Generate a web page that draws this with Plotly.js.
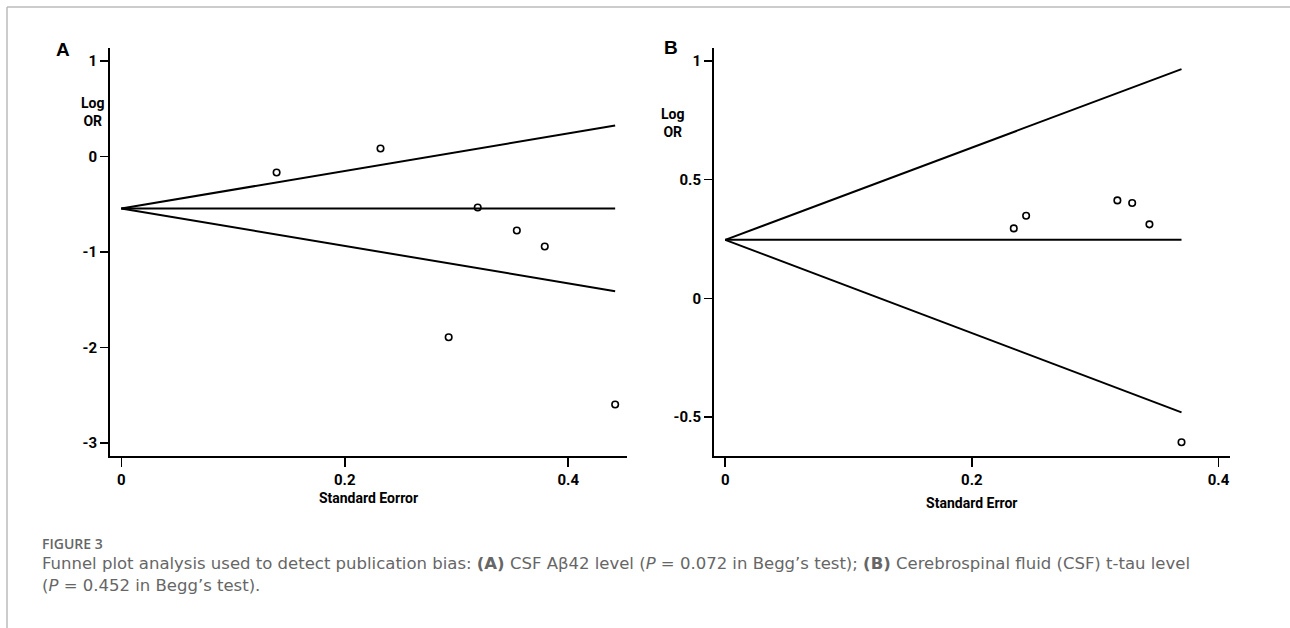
<!DOCTYPE html>
<html>
<head>
<meta charset="utf-8">
<script src="https://cdn.plot.ly/plotly-3.0.1.min.js"></script>
<style>html,body{margin:0;padding:0;background:#fff;}#chart{width:1290px;height:628px;}</style>
</head>
<body>
<div id="chart"></div>
<script>
// Panel A: CSF Abeta42 level
const seA = [0.139, 0.232, 0.319, 0.354, 0.379, 0.293, 0.442];
const logOrA = [-0.168, 0.084, -0.534, -0.775, -0.942, -1.892, -2.597];
const funnelSeA = [0, 0.442];
const pooledA = [-0.545, -0.545];
const upperA = [-0.545, 0.325];
const lowerA = [-0.545, -1.41];

// Panel B: CSF t-tau level
const seB = [0.234, 0.244, 0.318, 0.330, 0.344, 0.370];
const logOrB = [0.295, 0.348, 0.413, 0.402, 0.312, -0.606];
const funnelSeB = [0, 0.370];
const pooledB = [0.2466, 0.2466];
const upperB = [0.2466, 0.966];
const lowerB = [0.2466, -0.48];

const xTickVals = [0, 0.2, 0.4];
const xTickText = ['0', '0.2', '0.4'];
const yTickValsA = [-3, -2, -1, 0, 1];
const yTickTextA = ['-3', '-2', '-1', '0', '1'];
const yTickValsB = [-0.5, 0, 0.5, 1];
const yTickTextB = ['-0.5', '0', '0.5', '1'];

const W = 1290, H = 628;
const px = v => v / W;
const py = v => 1 - v / H;

const axFont = {family: 'Roboto, "Liberation Sans", sans-serif', size: 14, color: '#000', weight: 'bold'};
const tickFont = {family: 'Roboto, "Liberation Sans", sans-serif', size: 15, color: '#000', weight: 'bold'};

function line(x, y, xa, ya) {
  return {x: x, y: y, xaxis: xa, yaxis: ya, mode: 'lines', type: 'scatter',
    line: {color: '#000', width: 2}, hoverinfo: 'skip', showlegend: false};
}
function pts(x, y, xa, ya) {
  return {x: x, y: y, xaxis: xa, yaxis: ya, mode: 'markers', type: 'scatter',
    marker: {symbol: 'circle-open', size: 6.5, color: '#000', line: {width: 1.6, color: '#000'}},
    showlegend: false};
}

const data = [
  line(funnelSeA, pooledA, 'x', 'y'),
  line(funnelSeA, upperA, 'x', 'y'),
  line(funnelSeA, lowerA, 'x', 'y'),
  pts(seA, logOrA, 'x', 'y'),
  line(funnelSeB, pooledB, 'x2', 'y2'),
  line(funnelSeB, upperB, 'x2', 'y2'),
  line(funnelSeB, lowerB, 'x2', 'y2'),
  pts(seB, logOrB, 'x2', 'y2')
];

function xax(domain, range, title, anchor, standoff) {
  return {domain: domain, range: range, anchor: anchor, showline: true, linewidth: 2, linecolor: '#000',
    showgrid: false, zeroline: false, ticks: 'outside', ticklen: 9, tickwidth: 1.5, tickcolor: '#000',
    tickvals: xTickVals, ticktext: xTickText, tickfont: tickFont, automargin: false,
    title: {text: title, font: axFont, standoff: standoff}};
}
function yax(domain, range, tv, tt, anchor) {
  return {domain: domain, range: range, anchor: anchor, showline: true, linewidth: 2, linecolor: '#000',
    showgrid: false, zeroline: false, ticks: 'outside', ticklen: 8, tickwidth: 1.5, tickcolor: '#000',
    tickvals: tv, ticktext: tt, tickfont: tickFont, automargin: false};
}

const yDom = [py(456), py(48)];

const capFont = {family: '"DejaVu Sans", "Open Sans", sans-serif', size: 16.5, color: '#666'};

const layout = {
  width: W, height: H,
  margin: {l: 0, r: 0, t: 0, b: 0},
  paper_bgcolor: '#fff', plot_bgcolor: '#fff',
  showlegend: false,
  xaxis: xax([px(110), px(627)], [-0.0101, 0.4526], 'Standard Eorror', 'y', 5),
  yaxis: yax(yDom, [-3.136, 1.136], yTickValsA, yTickTextA, 'x'),
  xaxis2: xax([px(714), px(1229.6)], [-0.0091, 0.409], 'Standard Error', 'y2', 10),
  yaxis2: yax(yDom, [-0.664, 1.055], yTickValsB, yTickTextB, 'x2'),
  shapes: [
    {type: 'line', xref: 'paper', yref: 'paper', x0: px(7), x1: 1, y0: py(7), y1: py(7), line: {color: '#bbbbbb', width: 1.5}},
    {type: 'line', xref: 'paper', yref: 'paper', x0: px(7), x1: px(7), y0: py(7), y1: 0, line: {color: '#bbbbbb', width: 1.5}}
  ],
  annotations: [
    {text: 'A', xref: 'paper', yref: 'paper', x: px(63), y: py(49), xanchor: 'center', yanchor: 'middle', showarrow: false,
      font: {family: '"Liberation Sans", Arial, sans-serif', size: 19, color: '#000', weight: 'bold'}},
    {text: 'B', xref: 'paper', yref: 'paper', x: px(671), y: py(48), xanchor: 'center', yanchor: 'middle', showarrow: false,
      font: {family: '"Liberation Sans", Arial, sans-serif', size: 19, color: '#000', weight: 'bold'}},
    {text: 'Log<br>OR', xref: 'paper', yref: 'paper', x: px(92), y: py(112), xanchor: 'center', yanchor: 'middle', align: 'center', showarrow: false,
      font: axFont},
    {text: 'Log<br>OR', xref: 'paper', yref: 'paper', x: px(672), y: py(123), xanchor: 'center', yanchor: 'middle', align: 'center', showarrow: false,
      font: axFont},
    {text: 'FIGURE 3', xref: 'paper', yref: 'paper', x: px(40), y: py(543), xanchor: 'left', yanchor: 'middle', showarrow: false,
      font: {family: '"Open Sans", "Noto Sans", sans-serif', size: 14, color: '#666', weight: 600}},
    {text: 'Funnel plot analysis used to detect publication bias: <b>(A)</b> CSF Aβ42 level (<i>P</i> = 0.072 in Begg’s test); <b>(B)</b> Cerebrospinal fluid (CSF) t-tau level',
      xref: 'paper', yref: 'paper', x: px(40), y: py(563), xanchor: 'left', yanchor: 'middle', showarrow: false, font: capFont},
    {text: '(<i>P</i> = 0.452 in Begg’s test).',
      xref: 'paper', yref: 'paper', x: px(40), y: py(585), xanchor: 'left', yanchor: 'middle', showarrow: false, font: capFont}
  ]
};

Plotly.newPlot('chart', data, layout, {staticPlot: true, displayModeBar: false});
</script>
</body>
</html>
